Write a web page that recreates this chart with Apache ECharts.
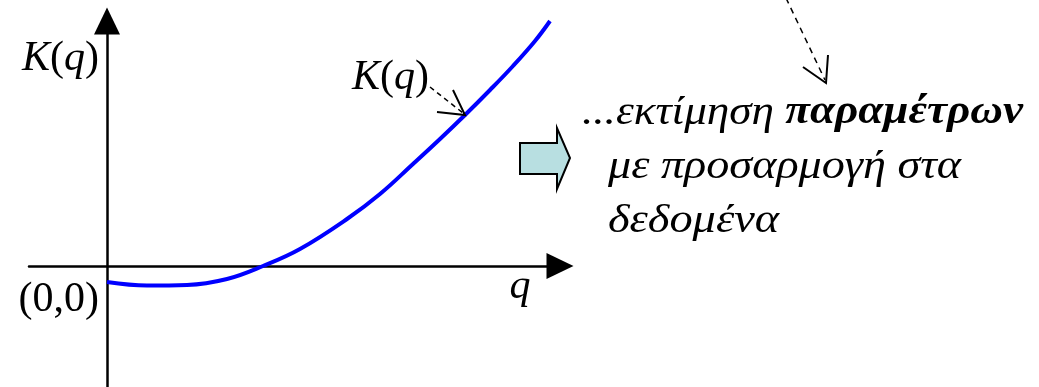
<!DOCTYPE html>
<html>
<head>
<meta charset="utf-8">
<script src="https://cdn.jsdelivr.net/npm/echarts@6/dist/echarts.min.js"></script>
<style>
  html, body { margin: 0; padding: 0; background: #fff; }
  #chart { width: 1039px; height: 387px; }
</style>
</head>
<body>
<div id="chart"></div>
<script>
// K(q) readings (arbitrary units)
const qValues = [0, 0.4, 0.8, 1.2, 1.56, 1.93, 2.4, 2.73, 3.06, 3.33, 3.58, 3.83, 4.06, 4.28, 4.43]
const kValues = [-0.16, -0.195, -0.19, -0.13, 0, 0.17, 0.47, 0.72, 1.02, 1.27, 1.51, 1.76, 2.0, 2.25, 2.45]
const axisRange = { qMin: -0.78, qMax: 4.53, kMin: -1.21, kMax: 2.45 }

const curveData = qValues.map((q, i) => [q, kValues[i]])

const serif = '"Liberation Serif", "DejaVu Serif", serif'

const chart = echarts.init(document.getElementById('chart'))

const axisCommon = {
    type: 'value',
    axisLine: {
        show: true,
        onZero: true,
        symbol: ['none', 'triangle'],
        symbolSize: [26, 27],
        lineStyle: { color: '#000', width: 2.5 }
    },
    axisTick: { show: false },
    axisLabel: { show: false },
    splitLine: { show: false }
}

const italicRich = { i: { fontStyle: 'italic', fontSize: 42, fontFamily: serif } }

const option = {
    animation: false,
    backgroundColor: '#fff',
    grid: { left: 29, right: 479, top: 21, bottom: 0 },
    xAxis: Object.assign({}, axisCommon, { min: axisRange.qMin, max: axisRange.qMax }),
    yAxis: Object.assign({}, axisCommon, { min: axisRange.kMin, max: axisRange.kMax }),
    series: [
        {
            name: 'K(q)',
            type: 'line',
            smooth: 0.4,
            symbol: 'none',
            clip: false,
            lineStyle: { color: '#0000ff', width: 4 },
            data: curveData
        }
    ],
    graphic: [
        // axis labels
        {
            type: 'text', z: 10,
            style: {
                x: 99, y: 59, align: 'right', verticalAlign: 'middle',
                text: '{i|K}({i|q})', font: '42px ' + serif, fill: '#000', rich: italicRich
            }
        },
        {
            type: 'text', z: 10,
            style: {
                x: 99, y: 300, align: 'right', verticalAlign: 'middle',
                text: '(0,0)', font: '42px ' + serif, fill: '#000'
            }
        },
        {
            type: 'text', z: 10,
            style: {
                x: 520, y: 287, align: 'center', verticalAlign: 'middle',
                text: 'q', font: 'italic 42px ' + serif, fill: '#000'
            }
        },
        {
            type: 'text', z: 10,
            style: {
                x: 352, y: 78, align: 'left', verticalAlign: 'middle',
                text: '{i|K}({i|q})', font: '42px ' + serif, fill: '#000', rich: italicRich
            }
        },
        // dashed pointer to the curve
        {
            type: 'line', z: 10,
            shape: { x1: 430, y1: 87, x2: 463, y2: 113 },
            style: { stroke: '#000', lineWidth: 1.5, lineDash: [5, 4] }
        },
        {
            type: 'polyline', z: 10,
            shape: { points: [[437, 112], [465, 115], [453, 90]] },
            style: { stroke: '#000', lineWidth: 2, fill: null }
        },
        // dashed pointer from the top
        {
            type: 'line', z: 10,
            shape: { x1: 786, y1: -2, x2: 825, y2: 80 },
            style: { stroke: '#000', lineWidth: 1.5, lineDash: [6, 5] }
        },
        {
            type: 'polyline', z: 10,
            shape: { points: [[803, 67], [826, 83], [828, 55]] },
            style: { stroke: '#000', lineWidth: 2, fill: null }
        },
        // block arrow
        {
            type: 'polygon', z: 10,
            shape: { points: [[520, 143], [557, 143], [557, 128], [570, 158], [557, 189], [557, 174], [520, 174]] },
            style: { fill: '#b8dfe1', stroke: '#000', lineWidth: 2 }
        },
        // note text, stretched a little to the width of the original Greek face
        {
            type: 'text', z: 10, x: 582, y: 113, scaleX: 1.13,
            style: {
                x: 0, y: 0, align: 'left', verticalAlign: 'middle',
                text: '...εκτίμηση {b|παραμέτρων}', font: 'italic 40px ' + serif, fill: '#000',
                rich: { b: { fontStyle: 'italic', fontWeight: 'bold', fontSize: 40, fontFamily: serif } }
            }
        },
        {
            type: 'text', z: 10, x: 608, y: 167, scaleX: 1.155,
            style: {
                x: 0, y: 0, align: 'left', verticalAlign: 'middle',
                text: 'με προσαρμογή στα', font: 'italic 40px ' + serif, fill: '#000'
            }
        },
        {
            type: 'text', z: 10, x: 608, y: 221, scaleX: 1.16,
            style: {
                x: 0, y: 0, align: 'left', verticalAlign: 'middle',
                text: 'δεδομένα', font: 'italic 40px ' + serif, fill: '#000'
            }
        }
    ]
}

chart.setOption(option)
</script>
</body>
</html>
